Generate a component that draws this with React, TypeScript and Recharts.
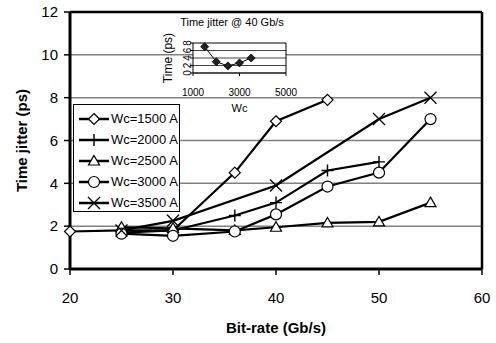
import {
  CartesianGrid,
  ComposedChart,
  Label,
  Legend,
  Line,
  LineChart,
  ReferenceLine,
  XAxis,
  YAxis,
} from 'recharts';

const FONT = '"Liberation Sans", Arial, sans-serif';

// main chart: jitter vs bit-rate for each Wc
const bitRate = [20, 25, 30, 36, 40, 45, 50, 55];
const wc1500 = [1.75, 1.8, 1.8, 4.5, 6.9, 7.9, null, null];
const wc2000 = [null, 1.7, 1.8, 2.5, 3.1, 4.6, 5.0, null];
const wc2500 = [null, 1.95, 1.9, 1.8, 1.95, 2.15, 2.2, 3.1];
const wc3000 = [null, 1.65, 1.55, 1.75, 2.55, 3.85, 4.5, 7.0];
const wc3500 = [null, 1.8, 2.25, null, 3.9, null, 7.0, 8.0];
const xTicks = [20, 30, 40, 50, 60];
const yTicks = [0, 2, 4, 6, 8, 10, 12];

// inset: jitter @ 40 Gb/s vs Wc
const insetWc = [1500, 2000, 2500, 3000, 3500];
const insetJitter = [7.0, 3.0, 1.9, 2.7, 4.0];
const insetXTicks = [1000, 3000, 5000];
const insetYTicks = [0, 2, 4, 6, 8];

type Shape = 'diamond' | 'plus' | 'triangle' | 'circle' | 'cross';

const series: { key: string; name: string; shape: Shape; values: (number | null)[] }[] = [
  { key: 'w1500', name: 'Wc=1500 A', shape: 'diamond', values: wc1500 },
  { key: 'w2000', name: 'Wc=2000 A', shape: 'plus', values: wc2000 },
  { key: 'w2500', name: 'Wc=2500 A', shape: 'triangle', values: wc2500 },
  { key: 'w3000', name: 'Wc=3000 A', shape: 'circle', values: wc3000 },
  { key: 'w3500', name: 'Wc=3500 A', shape: 'cross', values: wc3500 },
];

const data = bitRate.map((x, i) => {
  const row: Record<string, number | null> = { x };
  series.forEach((s) => {
    row[s.key] = s.values[i];
  });
  return row;
});

const insetData = insetWc.map((wc, i) => ({ wc, jitter: insetJitter[i] }));

function Marker({ shape, cx, cy }: { shape: Shape; cx: number; cy: number }) {
  const s = 5.5;
  switch (shape) {
    case 'diamond':
      return (
        <polygon
          points={`${cx},${cy - s} ${cx + s},${cy} ${cx},${cy + s} ${cx - s},${cy}`}
          fill="#fff"
          stroke="#000"
          strokeWidth={1.2}
        />
      );
    case 'plus':
      return (
        <path
          d={`M${cx - 6},${cy}H${cx + 6}M${cx},${cy - 6}V${cy + 6}`}
          stroke="#000"
          strokeWidth={1.4}
          fill="none"
        />
      );
    case 'triangle':
      return (
        <polygon
          points={`${cx},${cy - 5.5} ${cx + 5.5},${cy + 4} ${cx - 5.5},${cy + 4}`}
          fill="#fff"
          stroke="#000"
          strokeWidth={1.2}
        />
      );
    case 'circle':
      return <circle cx={cx} cy={cy} r={5.5} fill="#fff" stroke="#000" strokeWidth={1.2} />;
    default:
      return (
        <path
          d={`M${cx - 6},${cy - 6}L${cx + 6},${cy + 6}M${cx - 6},${cy + 6}L${cx + 6},${cy - 6}`}
          stroke="#000"
          strokeWidth={1.3}
          fill="none"
        />
      );
  }
}

function makeDot(shape: Shape) {
  return (p: any) => {
    if (p.cy == null || p.value == null) return <g key={p.key ?? p.index} />;
    return (
      <g key={p.key ?? p.index}>
        <Marker shape={shape} cx={p.cx} cy={p.cy} />
      </g>
    );
  };
}

function LegendBox() {
  return (
    <div
      style={{
        width: 107,
        height: 108,
        border: '1px solid #000',
        background: '#fff',
        boxSizing: 'border-box',
        paddingTop: 3,
        fontFamily: FONT,
        fontSize: 13,
      }}
    >
      {series.map((s) => (
        <div key={s.key} style={{ display: 'flex', alignItems: 'center', height: 21 }}>
          <svg width={37} height={16} style={{ flex: 'none' }}>
            <line x1={5} x2={35} y1={8} y2={8} stroke="#000" strokeWidth={2.5} />
            <Marker shape={s.shape} cx={20} cy={8} />
          </svg>
          <span style={{ whiteSpace: 'nowrap' }}>{s.name}</span>
        </div>
      ))}
    </div>
  );
}

function InsetYTick({ x, y, payload }: any) {
  return (
    <text
      transform={`translate(${x + 1},${y}) rotate(-90)`}
      textAnchor="middle"
      fontSize={10}
      fontFamily={FONT}
      fill="#000"
    >
      {payload.value}
    </text>
  );
}

export default function App() {
  return (
    <div
      style={{
        position: 'absolute',
        left: 0,
        top: 0,
        width: 496,
        height: 343,
        background: '#fff',
        fontFamily: FONT,
      }}
    >
      <ComposedChart
        width={496}
        height={343}
        data={data}
        margin={{ top: 12, right: 14, bottom: 0, left: 0 }}
      >
        <CartesianGrid vertical={false} stroke="#808080" strokeWidth={1.5} />
        <XAxis
          dataKey="x"
          type="number"
          domain={[20, 60]}
          ticks={xTicks}
          interval={0}
          height={74}
          tickSize={6}
          tickMargin={17}
          tick={{ fontSize: 15, fill: '#000', fontFamily: FONT }}
          axisLine={{ stroke: '#000', strokeWidth: 3 }}
          tickLine={{ stroke: '#000', strokeWidth: 1.5 }}
        >
          <Label
            value="Bit-rate (Gb/s)"
            position="insideBottom"
            offset={10}
            style={{ fontSize: 15, fontWeight: 'bold', fill: '#000', fontFamily: FONT }}
          />
        </XAxis>
        <YAxis
          type="number"
          domain={[0, 12]}
          ticks={yTicks}
          interval={0}
          width={70}
          tickSize={6}
          tickMargin={6}
          tick={{ fontSize: 15, fill: '#000', fontFamily: FONT }}
          axisLine={{ stroke: '#000', strokeWidth: 3 }}
          tickLine={{ stroke: '#000', strokeWidth: 1.5 }}
        >
          <Label
            value="Time jitter (ps)"
            angle={-90}
            position="insideLeft"
            offset={22}
            style={{
              textAnchor: 'middle',
              fontSize: 15,
              fontWeight: 'bold',
              fill: '#000',
              fontFamily: FONT,
            }}
          />
        </YAxis>
        <ReferenceLine y={12} stroke="#000" strokeWidth={2.5} />
        <ReferenceLine x={60} stroke="#000" strokeWidth={2.5} />
        <Legend
          layout="vertical"
          align="center"
          verticalAlign="middle"
          wrapperStyle={{ left: 73, top: 104, width: 107 }}
          content={() => <LegendBox />}
        />
        {series.map((s) => (
          <Line
            key={s.key}
            dataKey={s.key}
            name={s.name}
            type="linear"
            stroke="#000"
            strokeWidth={2.2}
            connectNulls
            dot={makeDot(s.shape)}
            activeDot={false}
            isAnimationActive={false}
          />
        ))}
      </ComposedChart>

      <div
        style={{
          position: 'absolute',
          left: 172,
          top: 15,
          width: 120,
          textAlign: 'center',
          fontSize: 11,
          lineHeight: '14px',
          whiteSpace: 'nowrap',
        }}
      >
        Time jitter @ 40 Gb/s
      </div>

      <div style={{ position: 'absolute', left: 130, top: 10 }}>
        <LineChart
          width={170}
          height={110}
          data={insetData}
          margin={{ top: 33, right: 14, bottom: 0, left: 0 }}
        >
          <CartesianGrid vertical={false} horizontal={false} fill="#fff" fillOpacity={1} />
          <XAxis
            dataKey="wc"
            type="number"
            domain={[1000, 5000]}
            ticks={insetXTicks}
            interval={0}
            height={47}
            tickSize={3}
            tickMargin={13}
            tick={{ fontSize: 10, fill: '#000', fontFamily: FONT }}
            axisLine={{ stroke: '#000', strokeWidth: 1 }}
            tickLine={{ stroke: '#000' }}
          >
            <Label
              value="Wc"
              position="insideBottom"
              offset={8}
              style={{ fontSize: 11, fill: '#000', fontFamily: FONT }}
            />
          </XAxis>
          <YAxis
            type="number"
            domain={[0, 8]}
            ticks={insetYTicks}
            interval={0}
            width={63}
            tickSize={3}
            tickMargin={0}
            tick={<InsetYTick />}
            axisLine={{ stroke: '#000', strokeWidth: 1 }}
            tickLine={{ stroke: '#000' }}
          >
            <Label
              value="Time (ps)"
              angle={-90}
              position="insideLeft"
              offset={38}
              style={{ textAnchor: 'middle', fontSize: 12, fill: '#000', fontFamily: FONT }}
            />
          </YAxis>
          {insetYTicks.map((v) => (
            <ReferenceLine key={v} y={v} stroke={v === 8 ? '#000' : '#444'} strokeWidth={1} />
          ))}
          <ReferenceLine x={5000} stroke="#000" strokeWidth={1} />
          <Line
            dataKey="jitter"
            type="linear"
            stroke="#000"
            strokeWidth={1}
            dot={(p: any) => (
              <polygon
                key={p.key ?? p.index}
                points={`${p.cx},${p.cy - 4} ${p.cx + 4},${p.cy} ${p.cx},${p.cy + 4} ${p.cx - 4},${p.cy}`}
                fill="#222"
                stroke="#000"
                strokeWidth={0.8}
              />
            )}
            activeDot={false}
            isAnimationActive={false}
          />
        </LineChart>
      </div>
    </div>
  );
}
